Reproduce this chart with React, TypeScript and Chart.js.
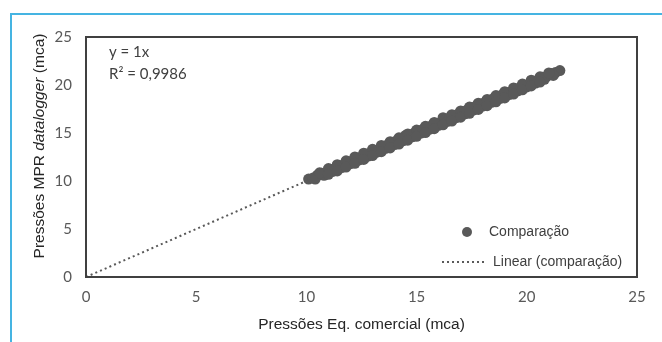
import React, { useEffect, useRef } from "react";
import { Chart, registerables } from "chart.js";

Chart.register(...registerables);

// Scatter data (x = Eq. comercial, y = MPR datalogger)
const compX: number[] = [
  10.1, 10.3, 10.5, 10.7, 10.9, 11.1, 11.3, 11.5, 11.7, 11.9, 12.1, 12.3, 12.5, 12.7, 12.9,
  13.1, 13.3, 13.5, 13.7, 13.9, 14.1, 14.3, 14.5, 14.7, 14.9, 15.1, 15.3, 15.5, 15.7, 15.9,
  16.2, 16.3, 16.5, 16.7, 16.9, 17.1, 17.3, 17.5, 17.7, 17.9, 18.1, 18.3, 18.5, 18.7, 18.9,
  19.1, 19.3, 19.5, 19.7, 19.9, 20.1, 20.3, 20.5, 20.7, 20.9, 21.1, 21.3, 21.5,
  10.4, 10.8, 11.2, 11.6, 12.0, 12.4, 12.8, 13.2, 13.6, 14.0, 14.4, 14.8, 15.2, 15.6, 16.0,
  16.4, 16.8, 17.2, 17.6, 18.0, 18.4, 18.8, 19.2, 19.6, 20.0, 20.4, 20.8, 21.2,
  10.6, 11.0, 11.4, 11.8, 12.2, 12.6, 13.0, 13.4, 13.8, 14.2, 14.6, 15.0, 15.4, 15.8, 16.6,
  17.0, 17.4, 17.8, 18.2, 18.6, 19.0, 19.4, 19.8, 20.2, 20.6, 21.0,
  11.0, 11.4, 11.8, 12.2, 12.6, 13.0, 13.4, 13.8, 14.2, 14.6, 15.0, 15.4, 15.8, 16.2, 16.6,
  17.0, 17.4, 17.8, 18.2, 18.6, 19.0, 19.4, 19.8, 20.2, 20.6,
];
const compY: number[] = [
  10.2, 10.3, 10.6, 10.8, 10.9, 11.2, 11.3, 11.6, 11.7, 12.0, 12.1, 12.4, 12.5, 12.8, 12.9,
  13.2, 13.3, 13.6, 13.8, 13.9, 14.2, 14.4, 14.75, 14.8, 15.0, 15.2, 15.4, 15.6, 15.8, 16.0,
  16.6, 16.4, 16.6, 16.8, 17.0, 17.2, 17.4, 17.6, 17.8, 18.0, 18.2, 18.4, 18.6, 18.8, 19.0,
  19.2, 19.3, 19.6, 19.7, 20.0, 20.1, 20.4, 20.5, 20.8, 20.9, 21.2, 21.3, 21.5,
  10.2, 10.6, 11.0, 11.4, 11.8, 12.2, 12.6, 13.0, 13.4, 13.8, 14.2, 14.6, 15.0, 15.4, 15.8,
  16.2, 16.6, 17.0, 17.4, 17.8, 18.2, 18.6, 19.0, 19.4, 19.8, 20.2, 20.6, 21.0,
  10.85, 11.3, 11.7, 12.1, 12.5, 12.9, 13.3, 13.7, 14.1, 14.5, 14.9, 15.3, 15.7, 16.1, 16.9,
  17.3, 17.7, 18.1, 18.5, 18.9, 19.3, 19.7, 20.1, 20.5, 20.85, 21.25,
  10.7, 11.05, 11.45, 11.85, 12.25, 12.65, 13.05, 13.45, 13.85, 14.25, 14.65, 15.05, 15.45, 15.85, 16.25,
  16.65, 17.05, 17.45, 17.85, 18.25, 18.65, 19.05, 19.5, 19.9, 20.3,
];

// Linear trend line endpoints (y = 1x)
const trendX: number[] = [0, 21.5];
const trendY: number[] = [0, 21.5];

const axisMin = 0;
const axisMax = 25;
const tickStep = 5;

const seriesLabel = "Comparação";
const trendLabel = "Linear (comparação)";
const equationLines: string[] = ["y = 1x", "R² = 0,9986"];
const xTitle = "Pressões Eq. comercial (mca)";
const yTitleParts: { text: string; italic: boolean }[] = [
  { text: "Pressões MPR ", italic: false },
  { text: "datalogger", italic: true },
  { text: " (mca)", italic: false },
];

const POINT_COLOR = "#595959";
const TEXT_COLOR = "#404040";
const SANS = "'Liberation Sans', Arial, sans-serif";
const CAL = "Lato, 'Open Sans', sans-serif";

const decorPlugin = {
  id: "decor",
  afterDraw(chart: any) {
    const { ctx, chartArea } = chart;
    const { left, top, right, bottom } = chartArea;
    ctx.save();
    // plot box
    ctx.strokeStyle = "#404040";
    ctx.lineWidth = 2;
    ctx.strokeRect(left, top, right - left, bottom - top);

    // equation text
    ctx.fillStyle = TEXT_COLOR;
    ctx.font = `15px ${CAL}`;
    ctx.textAlign = "left";
    ctx.textBaseline = "middle";
    equationLines.forEach((t, i) => ctx.fillText(t, left + 23, top + 15 + i * 22));

    // legend
    const lx = right - 170;
    ctx.fillStyle = POINT_COLOR;
    ctx.beginPath();
    ctx.arc(lx, bottom - 45, 5, 0, Math.PI * 2);
    ctx.fill();
    ctx.fillStyle = TEXT_COLOR;
    ctx.font = `14px ${SANS}`;
    ctx.fillText(seriesLabel, lx + 22, bottom - 45);
    ctx.strokeStyle = POINT_COLOR;
    ctx.lineWidth = 2;
    ctx.setLineDash([2, 3]);
    ctx.beginPath();
    ctx.moveTo(lx - 25, bottom - 15);
    ctx.lineTo(lx + 19, bottom - 15);
    ctx.stroke();
    ctx.setLineDash([]);
    ctx.fillText(trendLabel, lx + 26, bottom - 15);

    // x title
    ctx.fillStyle = "#262626";
    ctx.font = `15.5px ${SANS}`;
    ctx.textAlign = "center";
    ctx.fillText(xTitle, (left + right) / 2, 325);

    // y title (mixed italic)
    ctx.translate(40, 146);
    ctx.rotate(-Math.PI / 2);
    ctx.textAlign = "left";
    const fonts = yTitleParts.map((p) => `${p.italic ? "italic " : ""}15.5px ${SANS}`);
    let total = 0;
    const widths = yTitleParts.map((p, i) => {
      ctx.font = fonts[i];
      const w = ctx.measureText(p.text).width;
      total += w;
      return w;
    });
    let x = -total / 2;
    yTitleParts.forEach((p, i) => {
      ctx.font = fonts[i];
      ctx.fillText(p.text, x, 0);
      x += widths[i];
    });
    ctx.restore();
  },
};

export default function App() {
  const ref = useRef<HTMLCanvasElement | null>(null);
  useEffect(() => {
    if (!ref.current) return;
    const chart = new Chart(ref.current, {
      type: "scatter",
      data: {
        datasets: [
          {
            label: seriesLabel,
            data: compX.map((x, i) => ({ x, y: compY[i] })),
            backgroundColor: POINT_COLOR,
            borderWidth: 0,
            pointRadius: 5.5,
            order: 1,
          },
          {
            label: trendLabel,
            type: "line",
            data: trendX.map((x, i) => ({ x, y: trendY[i] })),
            borderColor: POINT_COLOR,
            borderWidth: 2,
            borderDash: [2, 3.1],
            pointRadius: 0,
            fill: false,
            order: 2,
          } as any,
        ],
      },
      options: {
        animation: false,
        responsive: false,
        devicePixelRatio: 1,
        layout: { padding: { top: 37, right: 25, left: 0, bottom: 0 } },
        plugins: { legend: { display: false }, tooltip: { enabled: false } },
        scales: {
          x: {
            type: "linear",
            min: axisMin,
            max: axisMax,
            grid: { display: false, drawTicks: false },
            border: { display: false },
            ticks: { stepSize: tickStep, color: "#595959", font: { family: CAL, size: 15 }, padding: 11 },
            afterFit: (s: any) => {
              s.height = 65;
            },
          },
          y: {
            type: "linear",
            min: axisMin,
            max: axisMax,
            grid: { display: false, drawTicks: false },
            border: { display: false },
            ticks: { stepSize: tickStep, color: "#595959", font: { family: CAL, size: 15 }, padding: 14 },
            afterFit: (s: any) => {
              s.width = 86;
            },
          },
        },
      },
      plugins: [decorPlugin],
    });
    return () => chart.destroy();
  }, []);

  return (
    <div style={{ position: "fixed", left: 0, top: 0, width: 662, height: 342, background: "#fff", overflow: "hidden" }}>
      <div
        style={{
          position: "absolute",
          left: 10,
          top: 13,
          width: 700,
          height: 400,
          borderLeft: "2px solid #45b4e2",
          borderTop: "2px solid #45b4e2",
        }}
      />
      <canvas ref={ref} width={662} height={342} style={{ position: "absolute", left: 0, top: 0, width: 662, height: 342 }} />
    </div>
  );
}
